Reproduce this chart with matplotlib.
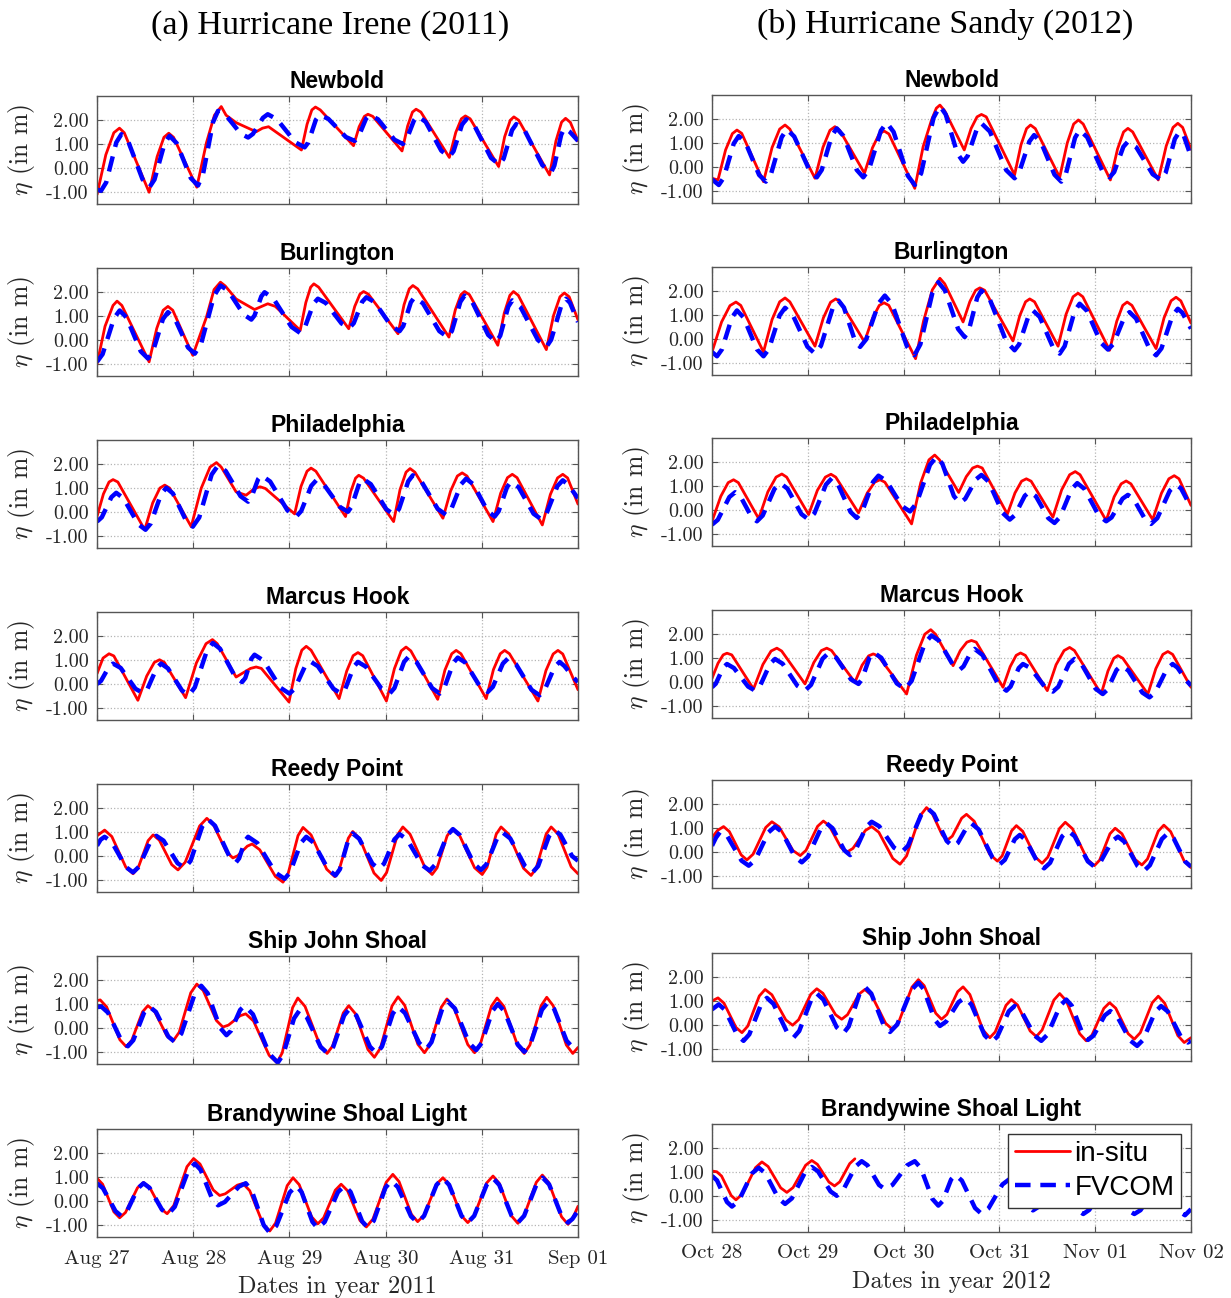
import numpy as np
import matplotlib
matplotlib.use('Agg')
import matplotlib.pyplot as plt

plt.rcParams['mathtext.fontset'] = 'cm'
plt.rcParams['axes.unicode_minus'] = False

# ---------- data: (hours since first tick, water level in m) ----------
stations = ['Newbold', 'Burlington', 'Philadelphia', 'Marcus Hook',
            'Reedy Point', 'Ship John Shoal', 'Brandywine Shoal Light']

irene_ticks = ['Aug 27', 'Aug 28', 'Aug 29', 'Aug 30', 'Aug 31', 'Sep 01']
sandy_ticks = ['Oct 28', 'Oct 29', 'Oct 30', 'Oct 31', 'Nov 01', 'Nov 02']
ytick_vals = [-1.0, 0.0, 1.0, 2.0]

# Hurricane Irene (2011)
irene_newbold_obs = [(0, -1.11), (2.2, 0.55), (4.2, 1.47), (5.6, 1.66), (6.8, 1.47), (13.0, -1.01), (15.0, 0.47),
                     (16.7, 1.28), (17.9, 1.45), (19.1, 1.28), (24.9, -0.80), (27.3, 1.05), (29.3, 2.2), (31.0, 2.56),
                     (32.2, 2.2), (34.7, 1.89), (39.7, 1.51), (41.3, 1.66), (42.8, 1.72), (51.0, 0.75), (52.4, 1.82),
                     (53.6, 2.42), (54.5, 2.54), (55.7, 2.42), (64.0, 0.93), (65.4, 1.72), (66.7, 2.15), (67.6, 2.24),
                     (68.8, 2.15), (76.1, 0.71), (77.5, 1.75), (78.7, 2.33), (79.6, 2.45), (80.8, 2.33), (87.9, 0.44),
                     (89.5, 1.48), (90.9, 2.05), (91.9, 2.17), (93.1, 2.05), (100.2, 0.06), (101.7, 1.30), (103.1, 1.99),
                     (104.0, 2.13), (105.2, 1.99), (112.9, -0.29), (114.5, 1.13), (115.9, 1.91), (116.9, 2.07),
                     (118.1, 1.90), (120, 1.13)]
irene_newbold_mod = [(0, -0.90), (1, -0.95), (2.3, -0.60), (4.8, 1.06), (6.1, 1.41), (7.85, 1.08), (11.35, -0.47),
                     (13.1, -0.80), (14.35, -0.48), (16.85, 1.02), (18.1, 1.34), (19.9, 1.03), (23.4, -0.42),
                     (25.2, -0.73), (26.45, -0.26), (28.95, 1.91), (30.2, 2.38), (32.1, 2.21), (35.8, 1.44),
                     (37.7, 1.27), (38.9, 1.42), (41.4, 2.09), (42.6, 2.24), (44.9, 2.03), (49.5, 1.07), (51.8, 0.86),
                     (52.7, 1.06), (54.6, 2.01), (55.5, 2.21), (57.7, 2.05), (62.1, 1.29), (64.3, 1.13), (65.2, 1.29),
                     (67.1, 2.05), (68.0, 2.21), (70.1, 2.03), (74.2, 1.18), (76.3, 1.00), (77.2, 1.18), (79.1, 1.99),
                     (80.0, 2.17), (82.0, 1.92), (85.9, 0.72), (87.9, 0.47), (88.95, 0.70), (91.05, 1.80), (92.1, 2.03),
                     (94.2, 1.75), (98.3, 0.42), (100.4, 0.14), (101.45, 0.39), (103.55, 1.58), (104.6, 1.83),
                     (106.8, 1.53), (111.1, 0.12), (113.3, -0.18), (114.1, 0.10), (115.8, 1.38), (116.6, 1.66),
                     (118.0, 1.50), (120, 1.13)]
irene_burlington_obs = [(0, -1.01), (2.0, 0.57), (4.0, 1.44), (5.0, 1.62), (6.2, 1.44), (13.0, -0.91), (14.9, 0.48),
                        (16.5, 1.24), (17.7, 1.40), (18.9, 1.24), (23.9, -0.64), (27.3, 0.95), (29.2, 2.1), (30.8, 2.41),
                        (32.0, 2.25), (34.7, 1.71), (39.3, 1.27), (42.6, 1.51), (44.5, 1.40), (50.7, 0.40), (52.1, 1.56),
                        (53.3, 2.2), (54.1, 2.34), (55.3, 2.2), (62.8, 0.47), (64.3, 1.40), (65.6, 1.91), (66.5, 2.02),
                        (67.7, 1.91), (75.1, 0.26), (76.6, 1.47), (77.9, 2.13), (78.8, 2.27), (80.0, 2.13), (87.8, 0.12),
                        (89.4, 1.26), (90.8, 1.89), (91.7, 2.02), (92.9, 1.89), (100.0, -0.22), (101.6, 1.12),
                        (103.0, 1.86), (103.9, 2.02), (105.1, 1.86), (112.1, -0.40), (113.9, 1.02), (115.5, 1.80),
                        (116.6, 1.96), (117.8, 1.80), (120, 0.84)]
irene_burlington_mod = [(0, -0.91), (1.4, -0.59), (4.25, 0.91), (5.65, 1.23), (7.4, 0.93), (10.9, -0.47), (12.7, -0.77),
                        (13.95, -0.48), (16.45, 0.87), (17.7, 1.16), (19.4, 0.90), (22.7, -0.31), (24.4, -0.57),
                        (26.0, -0.14), (29.2, 1.84), (30.8, 2.27), (32.7, 2.06), (36.6, 1.06), (38.5, 0.85), (39.3, 1.02),
                        (41.0, 1.82), (41.8, 1.99), (44.0, 1.73), (48.5, 0.55), (50.7, 0.29), (51.8, 0.50), (54.0, 1.51),
                        (55.1, 1.72), (57.1, 1.54), (61.0, 0.69), (63.0, 0.51), (64.05, 0.70), (66.15, 1.59),
                        (67.2, 1.78), (69.3, 1.57), (73.4, 0.58), (75.5, 0.37), (76.4, 0.58), (78.3, 1.57), (79.2, 1.78),
                        (81.3, 1.53), (85.4, 0.37), (87.5, 0.12), (88.55, 0.38), (90.65, 1.59), (91.7, 1.85),
                        (93.7, 1.56), (97.6, 0.21), (99.6, -0.08), (100.6, 0.18), (102.6, 1.39), (103.6, 1.65),
                        (105.7, 1.36), (110.0, 0.0), (112.1, -0.29), (113.3, 0.01), (115.8, 1.42), (117.0, 1.72),
                        (118.0, 1.55), (120, 0.75)]
irene_philadelphia_obs = [(0, -0.19), (1.6, 0.75), (3.0, 1.25), (4.0, 1.35), (5.2, 1.25), (11.9, -0.74), (13.9, 0.38),
                          (15.7, 1.0), (16.9, 1.12), (18.1, 1.0), (23.5, -0.61), (26.0, 0.99), (28.2, 1.87), (29.8, 2.06),
                          (31.0, 1.87), (34.7, 0.84), (37.2, 0.70), (39.3, 0.98), (40.7, 1.05), (42.0, 0.98),
                          (49.3, -0.08), (50.9, 1.07), (52.4, 1.70), (53.4, 1.83), (54.6, 1.70), (62.0, -0.19),
                          (63.3, 0.84), (64.5, 1.41), (65.3, 1.53), (66.5, 1.41), (74.0, -0.40), (75.6, 0.93),
                          (77.1, 1.66), (78.1, 1.81), (79.3, 1.66), (86.3, -0.26), (88.2, 0.87), (89.9, 1.50),
                          (91.1, 1.63), (92.3, 1.50), (98.8, -0.40), (100.7, 0.78), (102.4, 1.43), (103.6, 1.57),
                          (104.8, 1.43), (111.1, -0.54), (113.1, 0.73), (114.9, 1.42), (116.2, 1.57), (117.4, 1.42),
                          (120, 0.33)]
irene_philadelphia_mod = [(0, -0.40), (1.2, -0.22), (3.6, 0.62), (4.8, 0.80), (6.6, 0.57), (10.3, -0.51), (12.1, -0.74),
                          (13.4, -0.48), (16.0, 0.75), (17.3, 1.01), (18.95, 0.77), (22.25, -0.37), (23.9, -0.61),
                          (25.5, -0.23), (28.6, 1.56), (30.2, 1.94), (32.1, 1.71), (35.8, 0.66), (37.7, 0.43),
                          (38.5, 0.60), (40.2, 1.37), (41.0, 1.53), (43.2, 1.27), (47.5, 0.07), (49.7, -0.19),
                          (50.95, 0.04), (53.45, 1.09), (54.7, 1.32), (56.7, 1.12), (60.6, 0.21), (62.6, 0.01),
                          (63.5, 0.22), (65.4, 1.18), (66.3, 1.39), (68.3, 1.16), (72.2, 0.11), (74.2, -0.12),
                          (75.35, 0.13), (77.65, 1.28), (78.8, 1.53), (80.9, 1.28), (85.0, 0.13), (87.1, -0.12),
                          (88.35, 0.11), (90.85, 1.16), (92.1, 1.39), (93.9, 1.15), (97.4, 0.05), (99.2, -0.19),
                          (100.2, 0.03), (102.3, 1.04), (103.3, 1.26), (105.2, 1.03), (108.9, -0.07), (110.8, -0.30),
                          (112.15, -0.06), (114.85, 1.08), (116.2, 1.32), (117.5, 1.15), (120, 0.57)]
irene_marcus_obs = [(0, 0.43), (1.5, 1.08), (3.0, 1.26), (4.2, 1.17), (10.2, -0.68), (12.4, 0.33), (14.3, 0.90),
                    (15.6, 1.01), (16.8, 0.90), (22.1, -0.57), (24.8, 0.88), (27.2, 1.68), (28.8, 1.85), (30.0, 1.68),
                    (34.7, 0.29), (38.3, 0.65), (39.7, 0.71), (41.0, 0.65), (47.9, -0.75), (49.6, 0.64), (51.1, 1.41),
                    (52.2, 1.57), (53.4, 1.41), (60.4, -0.61), (62.3, 0.54), (63.9, 1.18), (65.1, 1.31), (66.3, 1.18),
                    (72.2, -0.71), (74.2, 0.64), (75.9, 1.38), (77.1, 1.54), (78.3, 1.38), (85.0, -0.64), (86.8, 0.58),
                    (88.5, 1.26), (89.6, 1.40), (90.8, 1.26), (97.1, -0.61), (98.9, 0.60), (100.6, 1.26),
                    (101.7, 1.40), (102.9, 1.26), (110.0, -0.71), (112.0, 0.56), (113.8, 1.25), (115.0, 1.40),
                    (116.2, 1.25), (120, -0.24)]
irene_marcus_mod = [(0, 0.00), (1.0, 0.13), (3.0, 0.72), (4.0, 0.85), (5.9, 0.67), (9.6, -0.20), (11.5, -0.38),
                    (12.6, -0.20), (14.9, 0.67), (16.0, 0.85), (17.7, 0.65), (21.2, -0.27), (22.9, -0.47),
                    (24.4, -0.14), (27.4, 1.38), (28.9, 1.71), (30.7, 1.47), (34.4, 0.32), (36.2, 0.08), (37.0, 0.25),
                    (38.5, 1.05), (39.3, 1.22), (41.5, 0.98), (45.8, -0.16), (48.0, -0.40), (49.3, -0.20),
                    (51.9, 0.74), (53.2, 0.94), (55.1, 0.74), (59.0, -0.20), (60.9, -0.40), (61.95, -0.20),
                    (64.05, 0.72), (65.1, 0.92), (67.1, 0.72), (71.0, -0.20), (73.0, -0.40), (74.2, -0.17),
                    (76.6, 0.92), (77.8, 1.15), (79.7, 0.92), (83.6, -0.17), (85.5, -0.40), (86.6, -0.18),
                    (88.9, 0.88), (90.0, 1.10), (91.9, 0.89), (95.6, -0.12), (97.5, -0.33), (98.75, -0.12),
                    (101.25, 0.85), (102.5, 1.06), (104.5, 0.83), (108.4, -0.24), (110.4, -0.47), (111.65, -0.26),
                    (114.15, 0.71), (115.4, 0.92), (116.6, 0.75), (119.0, 0.25), (120, 0.08)]
irene_reedy_obs = [(0, 0.84), (1.9, 1.08), (3.7, 0.81), (7.2, -0.47), (9.0, -0.74), (10.25, -0.50), (12.75, 0.64),
                   (14.0, 0.88), (15.55, 0.66), (18.65, -0.36), (20.2, -0.58), (22.0, -0.26), (25.6, 1.25), (27.4, 1.57),
                   (29.0, 1.32), (32.3, 0.17), (33.9, -0.08), (35.1, 0.01), (37.5, 0.41), (38.7, 0.50), (40.6, 0.26),
                   (44.5, -0.85), (46.4, -1.09), (47.65, -0.75), (50.15, 0.85), (51.4, 1.19), (53.4, 0.88),
                   (57.3, -0.55), (59.3, -0.86), (60.4, -0.58), (62.7, 0.74), (63.8, 1.02), (65.6, 0.71),
                   (69.1, -0.71), (70.9, -1.02), (72.25, -0.69), (74.95, 0.88), (76.3, 1.21), (78.1, 0.91),
                   (81.8, -0.47), (83.6, -0.77), (84.85, -0.49), (87.35, 0.84), (88.6, 1.12), (90.5, 0.84),
                   (94.2, -0.49), (96.1, -0.77), (97.3, -0.47), (99.6, 0.91), (100.8, 1.21), (102.7, 0.91),
                   (106.4, -0.51), (108.3, -0.81), (109.55, -0.51), (112.05, 0.91), (113.3, 1.21), (115.0, 0.92),
                   (118.3, -0.45), (120, -0.74)]
irene_reedy_mod = [(0, 0.43), (0.9, 0.68), (1.9, 0.80), (3.7, 0.58), (7.2, -0.46), (9.0, -0.68), (10.45, -0.45),
                   (13.35, 0.61), (14.8, 0.84), (16.6, 0.64), (20.1, -0.30), (21.9, -0.50), (23.35, -0.20),
                   (26.25, 1.23), (27.7, 1.53), (29.45, 1.26), (32.95, 0.01), (34.7, -0.26), (35.45, -0.10),
                   (36.95, 0.64), (37.7, 0.80), (40.0, 0.54), (44.5, -0.69), (46.8, -0.95), (48.15, -0.69),
                   (50.85, 0.54), (52.2, 0.80), (54.0, 0.56), (57.7, -0.57), (59.5, -0.81), (60.6, -0.55),
                   (62.7, 0.68), (63.8, 0.94), (65.4, 0.72), (68.7, -0.32), (70.3, -0.54), (71.6, -0.32),
                   (74.2, 0.69), (75.5, 0.91), (77.4, 0.68), (81.1, -0.38), (83.0, -0.61), (84.45, -0.35),
                   (87.35, 0.86), (88.8, 1.12), (90.55, 0.87), (94.05, -0.33), (95.8, -0.58), (97.15, -0.35),
                   (99.85, 0.75), (101.2, 0.98), (103.1, 0.73), (106.8, -0.43), (108.7, -0.68), (110.05, -0.42),
                   (112.75, 0.82), (114.1, 1.08), (115.6, 0.89), (118.5, 0.0), (120, -0.20)]
irene_shipjohn_obs = [(0, 1.14), (0.8, 1.17), (2.4, 0.88), (5.7, -0.49), (7.3, -0.78), (8.65, -0.52), (11.35, 0.67),
                      (12.7, 0.93), (14.3, 0.71), (17.4, -0.32), (19.0, -0.54), (20.5, -0.18), (23.4, 1.47), (24.9, 1.83),
                      (26.5, 1.56), (29.8, 0.31), (31.4, 0.04), (32.8, 0.12), (35.7, 0.51), (37.1, 0.59), (39.05, 0.29),
                      (42.95, -1.14), (44.9, -1.44), (46.2, -1.04), (48.8, 0.85), (50.1, 1.25), (51.9, 0.90),
                      (55.6, -0.71), (57.4, -1.06), (58.75, -0.76), (61.45, 0.63), (62.8, 0.93), (64.4, 0.61),
                      (67.6, -0.90), (69.2, -1.22), (70.7, -0.84), (73.6, 0.92), (75.1, 1.30), (76.75, 0.95),
                      (80.05, -0.68), (81.7, -1.03), (83.1, -0.69), (85.9, 0.87), (87.3, 1.21), (89.0, 0.87),
                      (92.5, -0.69), (94.2, -1.03), (95.6, -0.69), (98.4, 0.91), (99.8, 1.25), (101.5, 0.90),
                      (104.9, -0.71), (106.6, -1.06), (108.0, -0.71), (110.8, 0.93), (112.2, 1.28), (113.8, 0.93),
                      (117.1, -0.71), (118.7, -1.06), (120, -0.81)]
irene_shipjohn_mod = [(0, 0.87), (1.1, 0.89), (2.75, 0.64), (6.05, -0.51), (7.7, -0.76), (9.05, -0.51), (11.75, 0.64),
                      (13.1, 0.89), (14.7, 0.67), (17.8, -0.36), (19.4, -0.58), (21.05, -0.23), (24.35, 1.41),
                      (26.0, 1.76), (27.6, 1.45), (30.7, 0.01), (32.3, -0.30), (33.4, -0.12), (35.7, 0.75),
                      (36.8, 0.93), (38.9, 0.57), (43.0, -1.08), (45.1, -1.44), (46.45, -1.11), (49.15, 0.40),
                      (50.5, 0.73), (52.3, 0.46), (55.8, -0.79), (57.6, -1.06), (58.95, -0.78), (61.65, 0.52),
                      (63.0, 0.80), (64.7, 0.52), (68.1, -0.78), (69.8, -1.06), (71.1, -0.77), (73.8, 0.60),
                      (75.1, 0.89), (76.85, 0.62), (80.35, -0.62), (82.1, -0.89), (83.45, -0.59), (86.15, 0.81),
                      (87.5, 1.11), (89.3, 0.81), (92.8, -0.62), (94.6, -0.92), (95.95, -0.63), (98.65, 0.71),
                      (100.0, 1.00), (101.65, 0.70), (104.95, -0.69), (106.6, -0.99), (108.1, -0.68), (111.0, 0.76),
                      (112.5, 1.07), (114.05, 0.79), (117.15, -0.53), (118.7, -0.81), (120, -0.76)]
irene_brandywine_obs = [(0, 0.95), (1.4, 0.70), (4.2, -0.45), (5.65, -0.70), (7.1, -0.48), (10.1, 0.55), (11.6, 0.77),
                        (13.1, 0.58), (16.0, -0.33), (17.5, -0.53), (19.15, -0.19), (22.45, 1.43), (24.1, 1.77),
                        (25.7, 1.54), (29.0, 0.46), (30.6, 0.23), (32.0, 0.30), (35.0, 0.66), (36.4, 0.73),
                        (38.1, 0.43), (41.4, -0.95), (43.1, -1.25), (44.55, -0.92), (47.45, 0.64), (48.9, 0.97),
                        (50.45, 0.68), (53.55, -0.66), (55.1, -0.95), (56.55, -0.70), (59.45, 0.45), (60.9, 0.70),
                        (62.5, 0.43), (65.6, -0.81), (67.2, -1.08), (68.85, -0.75), (72.15, 0.78), (73.8, 1.11),
                        (75.35, 0.81), (78.45, -0.56), (80.0, -0.86), (81.6, -0.59), (84.7, 0.70), (86.3, 0.97),
                        (87.85, 0.69), (90.95, -0.62), (92.5, -0.90), (94.1, -0.61), (97.2, 0.75), (98.8, 1.04),
                        (100.35, 0.74), (103.45, -0.63), (105.0, -0.93), (106.5, -0.63), (109.6, 0.78), (111.1, 1.08),
                        (112.7, 0.77), (115.9, -0.66), (117.5, -0.97), (118.6, -0.75), (120, -0.22)]
irene_brandywine_mod = [(0, 0.74), (1.5, 0.53), (4.6, -0.42), (6.1, -0.63), (7.5, -0.42), (10.2, 0.53), (11.6, 0.74),
                        (13.1, 0.55), (16.2, -0.36), (17.7, -0.56), (19.4, -0.24), (22.7, 1.24), (24.4, 1.56),
                        (25.85, 1.30), (28.75, 0.08), (30.2, -0.18), (31.9, -0.04), (35.4, 0.60), (37.1, 0.74),
                        (38.6, 0.43), (41.6, -1.01), (43.1, -1.32), (44.75, -1.03), (48.05, 0.35), (49.7, 0.64),
                        (51.05, 0.37), (53.75, -0.87), (55.1, -1.14), (56.8, -0.87), (60.1, 0.37), (61.8, 0.64),
                        (63.25, 0.38), (66.15, -0.85), (67.6, -1.11), (69.05, -0.82), (71.95, 0.55), (73.4, 0.84),
                        (75.05, 0.58), (78.35, -0.64), (80.0, -0.90), (81.6, -0.62), (84.7, 0.67), (86.3, 0.95),
                        (87.85, 0.67), (90.95, -0.62), (92.5, -0.90), (94.1, -0.62), (97.2, 0.67), (98.8, 0.95),
                        (100.35, 0.67), (103.45, -0.62), (105.0, -0.90), (106.55, -0.62), (109.65, 0.69),
                        (111.2, 0.97), (112.8, 0.69), (115.9, -0.62), (117.5, -0.90), (118.6, -0.75), (120, -0.40)]

# Hurricane Sandy (2012)
sandy_newbold_obs = [(0, -0.47), (1.5, -0.54), (3.4, 0.71), (5.1, 1.39), (6.25, 1.54), (7.45, 1.40), (12.9, -0.61),
                     (15.05, 0.81), (16.95, 1.58), (18.3, 1.75), (19.5, 1.58), (25.8, -0.47), (27.8, 0.82),
                     (29.55, 1.53), (30.8, 1.68), (32.0, 1.53), (38.2, -0.26), (40.2, 0.80), (41.9, 1.38), (43.1, 1.50),
                     (44.3, 1.38), (50.8, -0.89), (52.9, 0.85), (55.0, 1.96), (56.2, 2.45), (57.1, 2.58), (58.3, 2.34),
                     (63.2, 0.71), (64.9, 1.60), (66.4, 2.09), (67.5, 2.19), (68.7, 2.09), (75.8, -0.33), (77.4, 0.92),
                     (78.8, 1.60), (79.8, 1.75), (81.0, 1.60), (87.1, -0.43), (89.0, 1.0), (90.6, 1.79), (91.8, 1.96),
                     (93.0, 1.79), (99.8, -0.54), (101.6, 0.75), (103.1, 1.46), (104.2, 1.61), (105.4, 1.46),
                     (111.8, -0.54), (113.8, 0.88), (115.5, 1.65), (116.7, 1.82), (117.9, 1.65), (120, 0.74)]
sandy_newbold_mod = [(0, -0.51), (1.7, -0.75), (2.95, -0.44), (5.45, 0.98), (6.7, 1.29), (8.4, 1.01), (11.8, -0.33),
                     (13.5, -0.61), (14.8, -0.28), (17.45, 1.24), (18.75, 1.57), (20.6, 1.27), (24.4, -0.13),
                     (26.25, -0.43), (27.5, -0.12), (30.0, 1.30), (31.25, 1.61), (32.9, 1.30), (36.25, -0.12),
                     (37.9, -0.43), (39.35, -0.09), (42.3, 1.51), (43.75, 1.85), (45.5, 1.46), (49.05, -0.36),
                     (50.8, -0.75), (52.4, -0.26), (55.5, 2.05), (57.1, 2.54), (58.55, 2.19), (61.45, 0.57),
                     (62.9, 0.22), (64.05, 0.46), (66.35, 1.58), (67.5, 1.82), (69.6, 1.48), (73.7, -0.13),
                     (75.8, -0.47), (77.0, -0.20), (79.5, 1.06), (80.7, 1.33), (82.4, 1.04), (85.8, -0.32),
                     (87.5, -0.61), (88.65, -0.29), (90.95, 1.22), (92.1, 1.54), (94.0, 1.24), (97.7, -0.13),
                     (99.6, -0.43), (100.75, -0.21), (103.05, 0.84), (104.2, 1.06), (106.3, 0.82), (110.4, -0.30),
                     (112.5, -0.54), (113.65, -0.24), (115.95, 1.17), (117.1, 1.47), (118.2, 1.30), (120, 0.43)]
sandy_burlington_obs = [(0, -0.54), (2.4, 0.71), (4.5, 1.39), (6.0, 1.54), (7.2, 1.40), (12.9, -0.54), (15.05, 0.81),
                        (16.95, 1.55), (18.3, 1.71), (19.5, 1.55), (25.8, -0.30), (27.9, 0.88), (29.7, 1.53), (31.0, 1.67),
                        (32.2, 1.53), (38.2, -0.12), (40.2, 0.86), (41.9, 1.40), (43.1, 1.51), (44.3, 1.40), (51.0, -0.82),
                        (53.0, 0.75), (55.2, 2.05), (57.1, 2.53), (58.3, 2.3), (62.9, 0.71), (64.6, 1.56), (66.05, 2.03),
                        (67.1, 2.13), (68.3, 2.03), (75.4, -0.08), (77.1, 0.97), (78.55, 1.55), (79.6, 1.67), (80.8, 1.55),
                        (86.7, -0.30), (88.7, 1.03), (90.45, 1.76), (91.7, 1.91), (92.9, 1.76), (99.6, -0.47),
                        (101.4, 0.74), (102.9, 1.40), (104.0, 1.54), (105.2, 1.40), (111.25, -0.40), (113.25, 0.88),
                        (115.0, 1.59), (116.25, 1.74), (117.45, 1.59), (120, 0.66)]
sandy_burlington_mod = [(0, -0.54), (1.25, -0.72), (2.5, -0.43), (5.0, 0.90), (6.25, 1.19), (7.9, 0.90), (11.25, -0.43),
                        (12.9, -0.72), (14.25, -0.42), (16.95, 0.99), (18.3, 1.30), (20.2, 1.01), (23.9, -0.32),
                        (25.8, -0.61), (27.3, -0.28), (30.2, 1.27), (31.7, 1.60), (33.05, 1.31), (35.75, -0.04),
                        (37.1, -0.33), (38.65, -0.01), (41.75, 1.49), (43.3, 1.81), (45.15, 1.44), (48.85, -0.31),
                        (50.7, -0.68), (52.2, -0.22), (55.2, 1.91), (56.7, 2.37), (58.35, 2.03), (61.65, 0.42),
                        (63.3, 0.08), (64.35, 0.37), (66.45, 1.73), (67.5, 2.02), (69.6, 1.65), (73.7, -0.10),
                        (75.8, -0.47), (76.95, -0.22), (79.25, 0.94), (80.4, 1.19), (82.1, 0.92), (85.4, -0.34),
                        (87.1, -0.61), (88.35, -0.30), (90.85, 1.16), (92.1, 1.47), (93.9, 1.18), (97.4, -0.15),
                        (99.2, -0.44), (100.55, -0.21), (103.25, 0.89), (104.6, 1.12), (106.25, 0.85), (109.6, -0.41),
                        (111.25, -0.68), (112.6, -0.39), (115.35, 0.97), (116.7, 1.26), (117.8, 1.10), (120, 0.43)]
sandy_philadelphia_obs = [(0, -0.47), (2.2, 0.57), (4.05, 1.14), (5.4, 1.26), (6.6, 1.14), (11.7, -0.36), (14.0, 0.76),
                          (16.05, 1.37), (17.5, 1.50), (18.7, 1.37), (24.2, -0.19), (26.4, 0.82), (28.4, 1.37),
                          (29.8, 1.49), (31.0, 1.37), (36.7, -0.12), (38.9, 0.71), (40.75, 1.16), (42.1, 1.26),
                          (43.3, 1.16), (50.0, -0.58), (52.3, 1.14), (54.35, 2.09), (55.8, 2.29), (57.0, 2.09),
                          (61.8, 0.73), (63.7, 1.39), (65.3, 1.75), (66.5, 1.83), (67.7, 1.75), (74.0, -0.17),
                          (75.9, 0.71), (77.55, 1.20), (78.75, 1.30), (79.95, 1.20), (85.4, -0.30), (87.6, 0.84),
                          (89.6, 1.47), (91.0, 1.60), (92.2, 1.47), (98.75, -0.44), (100.75, 0.55), (102.5, 1.09),
                          (103.75, 1.21), (104.95, 1.09), (110.4, -0.40), (112.6, 0.70), (114.45, 1.30), (115.8, 1.43),
                          (117.0, 1.30), (120, 0.19)]
sandy_philadelphia_mod = [(0, -0.61), (1.45, -0.41), (4.35, 0.54), (5.8, 0.74), (7.15, 0.56), (9.9, -0.29),
                          (11.25, -0.47), (12.7, -0.23), (15.65, 0.88), (17.1, 1.12), (18.9, 0.89), (22.4, -0.17),
                          (24.2, -0.40), (25.65, -0.14), (28.55, 1.06), (30.0, 1.32), (31.55, 1.07), (34.7, -0.08),
                          (36.25, -0.33), (37.6, -0.07), (40.35, 1.17), (41.7, 1.43), (43.7, 1.21), (47.6, 0.16),
                          (49.6, -0.06), (51.25, 0.28), (54.6, 1.88), (56.25, 2.22), (57.7, 1.93), (60.6, 0.58),
                          (62.1, 0.29), (63.45, 0.47), (66.15, 1.28), (67.5, 1.46), (69.3, 1.18), (72.8, -0.12),
                          (74.6, -0.40), (75.85, -0.22), (78.35, 0.59), (79.6, 0.77), (81.15, 0.57), (84.25, -0.34),
                          (85.8, -0.54), (87.2, -0.29), (90.1, 0.87), (91.5, 1.12), (93.3, 0.88), (96.9, -0.23),
                          (98.75, -0.47), (100.1, -0.31), (102.85, 0.47), (104.2, 0.63), (105.65, 0.45), (108.55, -0.40),
                          (110.0, -0.58), (111.55, -0.34), (114.7, 0.81), (116.25, 1.05), (117.5, 0.90), (120, 0.11)]
sandy_marcus_obs = [(0, 0.15), (1.5, 0.78), (2.8, 1.13), (3.75, 1.20), (4.95, 1.13), (10.4, -0.29), (12.75, 0.73),
                    (14.8, 1.29), (16.25, 1.41), (17.45, 1.29), (23.3, -0.08), (25.5, 0.81), (27.4, 1.31), (28.75, 1.41),
                    (29.95, 1.31), (35.8, -0.01), (37.6, 0.70), (39.25, 1.09), (40.4, 1.17), (41.6, 1.09),
                    (48.75, -0.50), (51.2, 1.11), (53.3, 1.99), (54.8, 2.18), (56.0, 1.99), (60.4, 0.68), (62.2, 1.31),
                    (63.85, 1.66), (65.0, 1.73), (66.2, 1.66), (72.9, -0.22), (74.7, 0.64), (76.2, 1.11), (77.3, 1.21),
                    (78.5, 1.11), (84.0, -0.36), (86.2, 0.72), (88.2, 1.31), (89.6, 1.44), (90.8, 1.31), (97.5, -0.50),
                    (99.2, 0.46), (100.65, 0.99), (101.7, 1.10), (102.9, 0.99), (109.2, -0.50), (111.2, 0.56),
                    (112.95, 1.15), (114.2, 1.27), (115.4, 1.15), (120, -0.22)]
sandy_marcus_mod = [(0, -0.22), (0.95, -0.07), (2.8, 0.60), (3.75, 0.75), (5.5, 0.58), (9.05, -0.19), (10.8, -0.36),
                    (12.05, -0.16), (14.55, 0.76), (15.8, 0.96), (17.7, 0.76), (21.4, -0.16), (23.3, -0.36),
                    (24.8, -0.12), (27.7, 0.97), (29.2, 1.21), (31.1, 1.02), (34.8, 0.11), (36.7, -0.08), (37.6, 0.12),
                    (39.5, 1.04), (40.4, 1.24), (42.4, 1.01), (46.3, -0.06), (48.3, -0.29), (50.0, 0.04), (53.3, 1.61),
                    (55.0, 1.94), (56.8, 1.73), (60.3, 0.73), (62.1, 0.52), (63.0, 0.65), (64.9, 1.25), (65.8, 1.38),
                    (67.8, 1.12), (71.75, -0.10), (73.75, -0.36), (74.8, -0.19), (76.85, 0.58), (77.9, 0.75),
                    (79.8, 0.58), (83.5, -0.23), (85.4, -0.40), (86.75, -0.20), (89.45, 0.76), (90.8, 0.96),
                    (92.6, 0.74), (96.1, -0.28), (97.9, -0.50), (99.05, -0.32), (101.35, 0.50), (102.5, 0.68),
                    (104.3, 0.48), (107.8, -0.44), (109.6, -0.64), (111.05, -0.43), (113.95, 0.54), (115.4, 0.75),
                    (116.6, 0.60), (118.9, 0.05), (120, -0.15)]
sandy_reedy_obs = [(0, 0.60), (1.4, 0.90), (2.9, 1.06), (4.35, 0.85), (7.3, -0.12), (8.75, -0.33), (10.3, -0.09),
                   (13.45, 1.02), (15.0, 1.26), (16.8, 1.05), (20.3, 0.06), (22.1, -0.15), (23.55, 0.07), (26.45, 1.07),
                   (27.9, 1.29), (29.35, 1.10), (32.3, 0.19), (33.75, -0.01), (35.3, 0.15), (38.45, 0.90), (40.0, 1.06),
                   (41.8, 0.82), (45.3, -0.27), (47.1, -0.51), (48.75, -0.16), (52.1, 1.50), (53.75, 1.85),
                   (55.05, 1.65), (57.7, 0.70), (59.0, 0.50), (60.2, 0.66), (62.55, 1.41), (63.75, 1.57), (65.7, 1.28),
                   (69.55, -0.09), (71.5, -0.38), (72.7, -0.16), (75.05, 0.88), (76.25, 1.10), (77.85, 0.86),
                   (81.1, -0.23), (82.7, -0.47), (84.15, -0.21), (87.05, 0.98), (88.5, 1.24), (90.3, 0.97),
                   (94.0, -0.30), (95.8, -0.57), (97.1, -0.34), (99.7, 0.76), (101.0, 0.99), (102.7, 0.76),
                   (106.0, -0.31), (107.7, -0.54), (109.1, -0.29), (111.8, 0.87), (113.2, 1.12), (114.9, 0.85),
                   (118.3, -0.38), (120, -0.65)]
sandy_reedy_mod = [(0, 0.26), (1.0, 0.60), (2.1, 0.85), (3.9, 0.64), (7.4, -0.36), (9.2, -0.57), (10.85, -0.33),
                   (14.15, 0.82), (15.8, 1.06), (17.5, 0.84), (20.8, -0.21), (22.5, -0.43), (24.05, -0.19),
                   (27.2, 0.95), (28.75, 1.19), (30.2, 0.99), (33.15, 0.07), (34.6, -0.13), (35.95, 0.08),
                   (38.65, 1.05), (40.0, 1.26), (41.9, 1.07), (45.6, 0.18), (47.5, -0.01), (49.1, 0.26), (52.4, 1.55),
                   (54.0, 1.82), (55.6, 1.58), (58.8, 0.46), (60.4, 0.22), (61.55, 0.37), (63.85, 1.04), (65.0, 1.19),
                   (66.8, 0.94), (70.3, -0.25), (72.1, -0.51), (73.35, -0.33), (75.85, 0.53), (77.1, 0.71),
                   (78.6, 0.50), (81.7, -0.47), (83.2, -0.68), (84.7, -0.45), (87.7, 0.65), (89.2, 0.88),
                   (90.85, 0.66), (94.15, -0.39), (95.8, -0.61), (97.3, -0.42), (100.2, 0.45), (101.7, 0.64),
                   (103.3, 0.43), (106.6, -0.58), (108.2, -0.79), (109.7, -0.55), (112.7, 0.54), (114.2, 0.78),
                   (115.65, 0.57), (118.55, -0.40), (120, -0.61)]
sandy_shipjohn_obs = [(0, 1.00), (1.5, 1.13), (3.0, 0.91), (6.0, -0.10), (7.5, -0.32), (8.95, -0.05), (11.85, 1.21),
                      (13.3, 1.48), (15.0, 1.26), (18.5, 0.21), (20.2, -0.01), (21.7, 0.22), (24.75, 1.28),
                      (26.25, 1.51), (27.8, 1.32), (30.95, 0.43), (32.5, 0.24), (33.95, 0.43), (36.85, 1.29),
                      (38.3, 1.48), (40.0, 1.23), (43.5, 0.07), (45.2, -0.18), (46.8, 0.13), (50.1, 1.58), (51.7, 1.89),
                      (53.15, 1.64), (56.05, 0.49), (57.5, 0.24), (58.85, 0.44), (61.55, 1.39), (62.9, 1.59),
                      (64.6, 1.27), (67.9, -0.21), (69.6, -0.53), (70.95, -0.29), (73.65, 0.82), (75.0, 1.06),
                      (76.55, 0.83), (79.7, -0.25), (81.25, -0.48), (82.7, -0.21), (85.65, 1.04), (87.1, 1.31),
                      (88.75, 1.01), (92.1, -0.36), (93.75, -0.66), (95.2, -0.42), (98.15, 0.69), (99.6, 0.93),
                      (101.15, 0.70), (104.25, -0.36), (105.8, -0.59), (107.3, -0.32), (110.3, 0.93), (111.8, 1.20),
                      (113.4, 0.91), (116.7, -0.44), (118.3, -0.73), (120, -0.53)]
sandy_shipjohn_mod = [(0, 0.65), (1.7, 0.86), (3.25, 0.63), (6.35, -0.43), (7.9, -0.66), (9.35, -0.39), (12.3, 0.86),
                      (13.75, 1.13), (15.4, 0.88), (18.75, -0.28), (20.4, -0.53), (21.85, -0.25), (24.8, 1.03),
                      (26.25, 1.31), (27.9, 1.06), (31.25, -0.10), (32.9, -0.35), (34.25, -0.06), (36.95, 1.30),
                      (38.3, 1.59), (39.9, 1.31), (43.0, -0.01), (44.6, -0.29), (46.4, 0.02), (49.9, 1.45),
                      (51.7, 1.76), (53.05, 1.49), (55.75, 0.23), (57.1, -0.04), (58.65, 0.14), (61.75, 0.95),
                      (63.3, 1.13), (65.0, 0.85), (68.3, -0.43), (70.0, -0.71), (71.45, -0.49), (74.35, 0.57),
                      (75.8, 0.79), (77.5, 0.57), (80.8, -0.44), (82.5, -0.66), (84.05, -0.40), (87.2, 0.80),
                      (88.75, 1.06), (90.1, 0.81), (92.85, -0.37), (94.2, -0.62), (95.6, -0.44), (98.4, 0.40),
                      (99.8, 0.58), (101.5, 0.36), (104.8, -0.65), (106.5, -0.87), (108.0, -0.62), (111.0, 0.54),
                      (112.5, 0.79), (114.2, 0.56), (117.5, -0.50), (119.2, -0.73), (120, -0.66)]
sandy_brandywine_obs = [(0, 1.04), (1.2, 1.01), (2.4, 0.83), (4.8, 0.02), (6.0, -0.16), (7.6, 0.08), (10.9, 1.18),
                        (12.5, 1.42), (14.05, 1.23), (17.2, 0.34), (18.75, 0.15), (20.3, 0.35), (23.45, 1.28),
                        (25.0, 1.48), (26.4, 1.32), (29.3, 0.58), (30.7, 0.42), (32.0, 0.59), (34.5, 1.35), (35.8, 1.55)]
sandy_brandywine_mod = [(0, 0.84), (1.25, 0.65), (3.75, -0.25), (5.0, -0.44), (6.7, -0.20), (10.0, 0.94), (11.7, 1.18),
                        (13.35, 0.95), (16.65, -0.10), (18.3, -0.33), (20.0, -0.10), (23.3, 0.98), (25.0, 1.21),
                        (26.55, 1.03), (29.7, 0.19), (31.25, 0.01), (32.8, 0.23), (35.95, 1.23), (37.5, 1.45),
                        (38.95, 1.28), (41.85, 0.46), (43.3, 0.29), (45.2, 0.46), (48.9, 1.28), (50.8, 1.45),
                        (52.3, 1.17), (55.2, -0.12), (56.7, -0.40), (57.8, -0.21), (59.9, 0.69), (61.0, 0.88),
                        (62.6, 0.64), (65.9, -0.50), (67.5, -0.74), (69.25, -0.52), (72.75, 0.48), (74.5, 0.70),
                        (76.0, 0.50), (78.9, -0.40), (80.4, -0.60), (81.9, -0.44), (85.0, 0.34), (86.5, 0.50),
                        (88.1, 0.31), (91.4, -0.56), (93.0, -0.75), (94.5, -0.58), (97.5, 0.23), (99.0, 0.40),
                        (100.7, 0.23), (104.1, -0.58), (105.8, -0.75), (107.35, -0.59), (110.45, 0.19), (112.0, 0.35),
                        (113.6, 0.18), (116.9, -0.63), (118.5, -0.80), (120, -0.55)]

irene_obs = [irene_newbold_obs, irene_burlington_obs, irene_philadelphia_obs, irene_marcus_obs,
             irene_reedy_obs, irene_shipjohn_obs, irene_brandywine_obs]
irene_mod = [irene_newbold_mod, irene_burlington_mod, irene_philadelphia_mod, irene_marcus_mod,
             irene_reedy_mod, irene_shipjohn_mod, irene_brandywine_mod]
sandy_obs = [sandy_newbold_obs, sandy_burlington_obs, sandy_philadelphia_obs, sandy_marcus_obs,
             sandy_reedy_obs, sandy_shipjohn_obs, sandy_brandywine_obs]
sandy_mod = [sandy_newbold_mod, sandy_burlington_mod, sandy_philadelphia_mod, sandy_marcus_mod,
             sandy_reedy_mod, sandy_shipjohn_mod, sandy_brandywine_mod]

# ---------- layout (pixels of the 1231x1298 canvas) ----------
W, H = 1231, 1298
fig = plt.figure(figsize=(W / 100, H / 100), dpi=100)

cols = [
    dict(x0=97, x1=578, tops=[96, 268, 440, 612, 784, 956, 1129], obs=irene_obs, mod=irene_mod,
         ticks=irene_ticks, xlabel='Dates in year 2011'),
    dict(x0=712, x1=1191, tops=[95, 267, 438, 610, 780, 953, 1124], obs=sandy_obs, mod=sandy_mod,
         ticks=sandy_ticks, xlabel='Dates in year 2012'),
]
ax_h = 108

serif_cm = ['cmr10', 'DejaVu Serif']
txt_col = '#262626'

for c, col in enumerate(cols):
    for r in range(7):
        top = col['tops'][r]
        ax = fig.add_axes([col['x0'] / W, 1 - (top + ax_h) / H, (col['x1'] - col['x0']) / W, ax_h / H])

        o = np.array(col['obs'][r])
        m = np.array(col['mod'][r])
        ax.plot(o[:, 0], o[:, 1], color='#ff0000', lw=2.0, label='in-situ',
                solid_joinstyle='round', solid_capstyle='round')
        ax.plot(m[:, 0], m[:, 1], color='#0000ff', lw=3.2, ls=(0, (3.5, 2.2)), label='FVCOM')

        ax.set_xlim(0, 120)
        ax.set_ylim(-1.5, 3.0)
        ax.set_xticks(np.arange(0, 121, 24))
        ax.set_yticks(ytick_vals)
        ax.set_yticklabels(['%.2f' % v for v in ytick_vals], fontfamily=serif_cm, fontsize=14.5, color=txt_col)
        if r == 6:
            ax.set_xticklabels(col['ticks'], fontfamily=serif_cm, fontsize=15, color=txt_col)
            ax.set_xlabel(col['xlabel'], fontfamily=serif_cm, fontsize=17.5, labelpad=6, color=txt_col)
        else:
            ax.set_xticklabels([])

        ax.grid(True, ls=':', color='#b5b5b5', lw=0.9)
        ax.tick_params(direction='in', top=True, right=True, length=4, color='#555555', pad=6)
        ax.tick_params(axis='x', pad=9)
        for s in ax.spines.values():
            s.set_color('#555555')
            s.set_linewidth(1.0)

        ax.set_ylabel(r'$\eta$ (in m)', fontfamily=serif_cm, fontsize=18.5, color=txt_col)
        ax.yaxis.set_label_coords(-0.125, 0.5)
        ax.set_title(stations[r], fontfamily='Liberation Sans', fontweight='bold', fontsize=16.5, pad=6)

        if c == 1 and r == 6:
            leg = ax.legend(loc='upper right', prop={'family': 'Liberation Sans', 'size': 20},
                            fancybox=False, framealpha=1, edgecolor='#333333', borderpad=0.25,
                            handlelength=2.0, handletextpad=0.15, labelspacing=0.3, borderaxespad=0.35)
            leg.get_frame().set_linewidth(1.0)

fig.text(330 / W, 1 - 26 / H, '(a) Hurricane Irene (2011)', ha='center', va='center',
         fontfamily='Liberation Serif', fontsize=24.5)
fig.text(945 / W, 1 - 24 / H, '(b) Hurricane Sandy (2012)', ha='center', va='center',
         fontfamily='Liberation Serif', fontsize=24.5)

fig.savefig('out.png', dpi=100)
